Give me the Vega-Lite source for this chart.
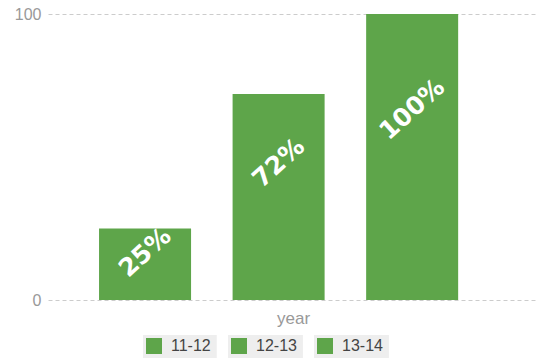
{
  "$schema": "https://vega.github.io/schema/vega-lite/v6.json",
  "width": 490,
  "height": 286,
  "autosize": {"type": "none"},
  "padding": {"left": 48, "top": 14, "right": 0, "bottom": 58},
  "background": "white",
  "config": {"view": {"stroke": null}},
  "data": {
    "values": [
      {"year": "11-12", "value": 25, "label": "25%"},
      {"year": "12-13", "value": 72, "label": "72%"},
      {"year": "13-14", "value": 100, "label": "100%"}
    ]
  },
  "layer": [
    {
      "mark": {"type": "bar", "color": "#5ea54a"},
      "encoding": {
        "x": {
          "field": "year", "type": "nominal", "sort": null,
          "scale": {"paddingInner": 0.311, "paddingOuter": 0.49, "align": 0.39},
          "axis": {"title": "year", "labels": false, "ticks": false, "domain": false, "titleFontSize": 17, "titleColor": "#999", "titleFontWeight": "normal", "titlePadding": 10, "titleFont": "Liberation Sans"}
        },
        "y": {
          "field": "value", "type": "quantitative",
          "scale": {"domain": [0, 100]},
          "axis": {"values": [0, 100], "title": null, "domain": false, "ticks": false, "labelPadding": 7, "labelFontSize": 16, "labelFont": "Liberation Sans", "labelColor": "#999", "gridDash": [4, 3], "gridColor": "#ccc"}
        },
        "color": {
          "field": "year", "type": "nominal",
          "scale": {"domain": ["11-12", "12-13", "13-14"], "range": ["#5ea54a", "#5ea54a", "#5ea54a"]},
          "legend": {
            "orient": "none", "legendX": 98, "legendY": 324, "direction": "horizontal", "title": null,
            "symbolType": "square", "symbolSize": 256, "symbolStrokeWidth": 0, "symbolOpacity": 1,
            "labelFontSize": 16, "labelFont": "Liberation Sans", "labelColor": "#444", "labelOffset": 9,
            "columnPadding": 14, "padding": 0,
            "encode": {"entries": {"update": {"fill": {"value": "#eeeeee"}, "stroke": {"value": "#eeeeee"}, "strokeWidth": {"value": 6}, "width": {"value": 74}, "height": {"value": 15}}}}
          }
        }
      }
    },
    {
      "mark": {"type": "text", "angle": 318, "font": "DejaVu Sans", "fontWeight": "bold", "fontSize": 25, "color": "white", "align": "center", "baseline": "middle"},
      "encoding": {
        "x": {"field": "year", "type": "nominal", "sort": null},
        "y": {"field": "value", "type": "quantitative", "scale": {"domain": [0, 150]}, "axis": null},
        "text": {"field": "label"}
      }
    }
  ],
  "resolve": {"scale": {"y": "independent"}}
}
